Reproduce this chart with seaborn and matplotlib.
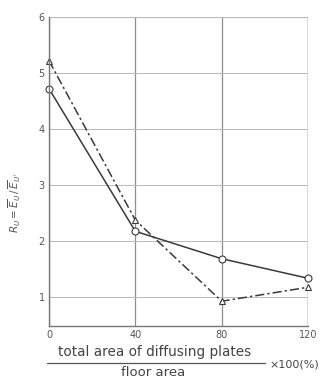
import matplotlib
matplotlib.use("Agg")
import matplotlib.pyplot as plt
import seaborn as sns
import pandas as pd

# Ratio of plate area to floor area (x100 %)
area_ratio = [0, 40, 80, 120]
# Illuminance ratio R_U for the two measuring conditions
r_solid = [4.72, 2.17, 1.68, 1.33]
r_dashdot = [5.22, 2.37, 0.92, 1.17]
series_names = ["A", "B"]

y_ticks = [1, 2, 3, 4, 5, 6]
x_ticks = [0, 40, 80, 120]

df = pd.DataFrame({
    "ratio": area_ratio * 2,
    "R": r_solid + r_dashdot,
    "series": [series_names[0]] * 4 + [series_names[1]] * 4,
})

sns.set_theme(style="white")
plt.rcParams["font.family"] = ["DejaVu Sans"]

fig = plt.figure(figsize=(3.33, 3.78), dpi=100)
ax = fig.add_axes([0.147, 0.138, 0.778, 0.817])

ink = "#3a3a3a"

sns.lineplot(
    data=df, x="ratio", y="R", hue="series", style="series",
    palette={series_names[0]: ink, series_names[1]: ink},
    dashes={series_names[0]: "", series_names[1]: (6, 2, 1.5, 2)},
    markers={series_names[0]: "o", series_names[1]: "^"},
    markersize=5, markerfacecolor="white", markeredgecolor=ink,
    markeredgewidth=0.8, linewidth=1.1, legend=False, ax=ax,
)
for line in ax.lines:
    line.set_clip_on(False)

ax.set_xlim(0, 120)
ax.set_ylim(0.48, 6)
ax.set_xticks(x_ticks)
ax.set_yticks(y_ticks)
ax.set_xticklabels([str(v) for v in x_ticks], fontsize=7, color="#555555")
ax.set_yticklabels([str(v) for v in y_ticks], fontsize=7, color="#555555")
ax.tick_params(length=0, pad=3)
ax.yaxis.grid(True, color="#b8b8b8", linewidth=0.7)
ax.xaxis.grid(True, color="#8f8f8f", linewidth=0.9)
for side in ["left", "bottom"]:
    ax.spines[side].set_color("#777777")
    ax.spines[side].set_linewidth(1.0)
for side in ["top", "right"]:
    ax.spines[side].set_visible(False)
ax.axvline(120, color="#888888", linewidth=1.0, zorder=0)
ax.axhline(6, color="#b0b0b0", linewidth=0.8, zorder=0)

ax.set_xlabel("")
ax.set_ylabel(r"$R_U=\overline{E}_{U}\,/\,\overline{E}_{U'}$", fontsize=7.5,
              color="#555555")
ax.yaxis.set_label_coords(-0.1, 0.4)

# Fractional axis title below the plot
fig.text(0.465, 0.068, "total area of diffusing plates", ha="center",
         va="center", fontsize=9.8, color="#444444")
fig.add_artist(plt.Line2D([0.142, 0.795], [0.040, 0.040],
                          transform=fig.transFigure, color="#555555",
                          linewidth=0.9))
fig.text(0.46, 0.014, "floor area", ha="center", va="center",
         fontsize=9.5, color="#444444")
fig.text(0.81, 0.036, "×100(%)", ha="left", va="center", fontsize=8,
         color="#444444")

fig.savefig("out.png", dpi=100)
